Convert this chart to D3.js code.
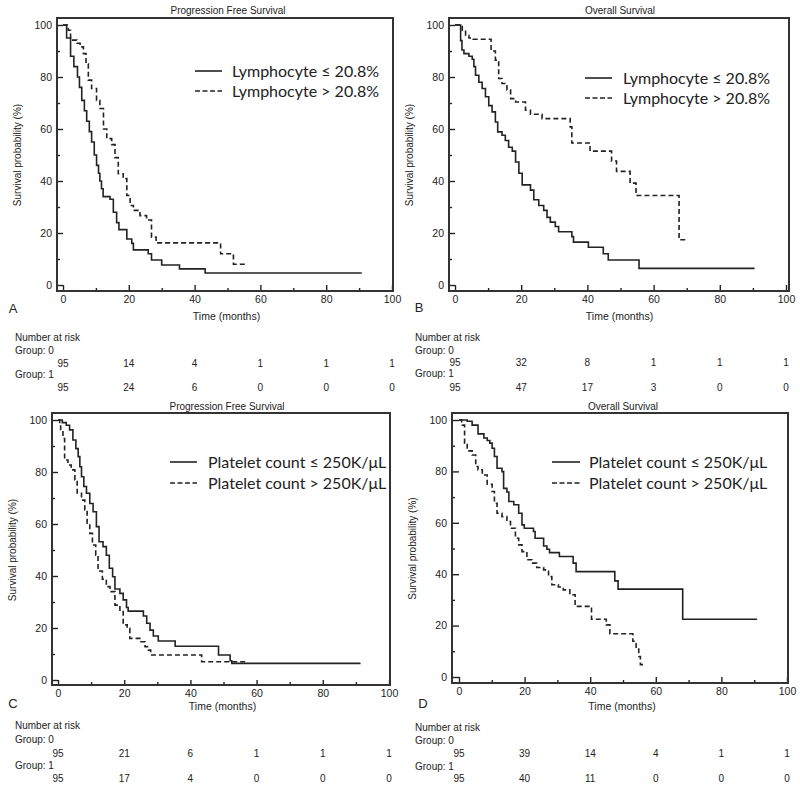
<!DOCTYPE html>
<html>
<head>
<meta charset="utf-8">
<script src="https://cdn.jsdelivr.net/npm/d3@7/dist/d3.min.js"></script>
<style>
  html, body { margin: 0; padding: 0; background: #fff; }
  svg { display: block; }
  text { font-family: "Liberation Sans", Arial, sans-serif; fill: #222; }
  .legend text { font-family: Lato, "Open Sans", sans-serif; }
</style>
</head>
<body>
<svg id="chart" width="800" height="788"></svg>
<script>
// ---------------- DATA ----------------
const timeTicks = [0, 20, 40, 60, 80, 100];
const minorTicks = [10, 30, 50, 70, 90];
const yTicks = [0, 20, 40, 60, 80, 100];
const panelLetters = ["A", "B", "C", "D"];
const panelTitles = ["Progression Free Survival", "Overall Survival", "Progression Free Survival", "Overall Survival"];
const legendLow = ["Lymphocyte \u2264 20.8%", "Lymphocyte \u2264 20.8%", "Platelet count \u2264 250K/\u03BCL", "Platelet count \u2264 250K/\u03BCL"];
const legendHigh = ["Lymphocyte > 20.8%", "Lymphocyte > 20.8%", "Platelet count > 250K/\u03BCL", "Platelet count > 250K/\u03BCL"];
const riskGroup0 = [[95, 14, 4, 1, 1, 1], [95, 32, 8, 1, 1, 1], [95, 21, 6, 1, 1, 1], [95, 39, 14, 4, 1, 1]];
const riskGroup1 = [[95, 24, 6, 0, 0, 0], [95, 47, 17, 3, 0, 0], [95, 17, 4, 0, 0, 0], [95, 40, 11, 0, 0, 0]];

// Kaplan-Meier steps: [month, survival %]
const pfsLymphLow = [[0,100],[1.1,95],[2.3,88],[3.3,84],[4.4,80],[5.0,76],[5.7,71],[6.5,67],[7.2,63],[8.0,59],[8.7,55],[9.5,50],[10.2,46],[10.8,43],[11.2,40],[11.7,37],[12.2,34],[14.3,33],[15.3,28],[16.3,24],[17.0,21.3],[19.4,17.7],[20.9,16],[21.4,13.5],[25.9,12],[26.9,9.6],[30.0,7.7],[35.4,6.2],[43.2,4.6],[90.8,4.6]];
const pfsLymphHigh = [[0,100],[1.6,98],[2.3,94.2],[4.2,93],[5.2,91.6],[6.2,89],[7.0,85],[7.7,78.8],[8.7,75.6],[10.2,71],[11.2,67.9],[12.3,60],[13.3,56.3],[14.8,54],[15.8,49],[16.8,42.8],[18.3,40.9],[19.4,34.4],[20.4,30.6],[21.4,28.7],[23.4,26.7],[25.4,25],[26.9,18.4],[28.3,16.2],[47.9,12],[51.8,8],[56,8]];
const osLymphLow = [[0,100],[1.7,94],[2.1,90.4],[2.7,89],[4.2,88],[5.2,86.8],[5.7,84],[6.2,80.7],[7.2,78],[8.2,75.6],[9.2,72.4],[10.2,69],[11.2,66.6],[12.2,62.7],[12.9,58.9],[14.2,57.6],[15.2,55.6],[16.2,53],[17.3,51.5],[18.3,47.3],[19.3,43],[20.3,38.5],[22.8,36.5],[23.8,32.8],[25.3,30.6],[26.8,28.7],[27.8,26],[28.8,24.2],[30.3,22.5],[31.3,20.5],[35.3,18.6],[35.8,16.5],[40.3,14.5],[44.8,12],[46.3,9.6],[55.6,6.4],[90.5,6.4]];
const osLymphHigh = [[0,100],[2.2,98],[3.2,96],[4.2,95],[5.5,94.5],[10.9,90],[12.2,86.5],[13.2,79.4],[14.2,77.5],[15.7,75],[16.8,71.7],[18.3,70.4],[21.3,67.2],[22.8,65.7],[26.3,64],[34.8,60.8],[35.3,54.6],[40.8,51.5],[47.3,47.7],[48.8,43.7],[52.9,39.2],[54.7,34.4],[67.7,17.4],[69.9,17.4]];
const pfsPltLow = [[0,100],[1.3,99],[2.5,98],[3.5,96.2],[4.5,92.3],[5.4,89],[6.1,85.9],[6.6,82],[7.1,78.2],[7.8,74.4],[8.6,71.8],[9.6,67.9],[10.6,64.7],[11.6,59],[12.4,53.2],[13.6,51.3],[14.6,48],[15.5,43],[16.5,39.7],[17.2,35],[18.7,33.3],[19.7,30.8],[20.7,27.9],[21.2,26.5],[25.8,24.6],[26.8,21.8],[27.8,19.2],[28.8,16.9],[30.3,15],[35.4,13],[48.5,9.6],[52,7.4],[52.5,6.4],[91.4,6.4]];
const pfsPltHigh = [[0,100],[0.5,98],[0.8,96],[1.5,92.9],[2.0,84.6],[3.0,82.7],[4.0,80.8],[5.1,76.9],[5.8,71.8],[7.1,69.2],[8.1,65.4],[8.8,60.3],[9.6,56.4],[10.4,51.9],[11.4,48],[12.1,41.9],[13.4,38.8],[14.6,35.9],[15.7,34],[17.2,28.8],[18.7,26.3],[19.7,21.2],[20.9,19.9],[21.7,16],[24.7,14.7],[26.3,12.8],[27.3,11.5],[28,9.6],[43.4,7],[56.6,7]];
const osPltLow = [[0,100],[2.5,99.5],[4.0,98],[5.8,94.6],[7.6,93],[8.6,92],[9.4,91],[10.1,89],[10.8,85.8],[11.6,81.2],[13.1,79.9],[13.6,73.4],[14.6,72],[15.2,68.3],[16.7,67],[18.2,63.7],[19.2,59.2],[19.9,57.9],[22.7,56.6],[23.2,54],[25.8,51],[26.8,49.7],[27.6,48.4],[30.6,46.9],[34.8,44.3],[35.7,41],[47.5,37.4],[48.5,34.2],[68.2,22.5],[90.9,22.5]];
const osPltHigh = [[0,100],[0.8,99],[1.0,98],[1.7,91],[2.5,88],[4.0,86.4],[5.1,81.9],[5.8,80.6],[7.1,78.6],[8.6,75],[10.1,72.2],[10.8,67.6],[11.6,63.7],[13.1,62.4],[14.6,60.5],[15.7,57.9],[17.2,54],[18.2,51.4],[19.2,48.8],[20.7,45.6],[22.2,44.3],[23.7,42.6],[25.8,41.7],[27.3,39.1],[28.3,35.9],[30.3,35],[31.8,33.9],[33.8,32],[35.4,27.5],[40.4,22.5],[44.9,20.3],[46.0,16.8],[53.0,13.9],[54.0,11.3],[54.8,8],[55.3,4.8],[56.1,4.8]];

const curvesLow = [pfsLymphLow, osLymphLow, pfsPltLow, osPltLow];
const curvesHigh = [pfsLymphHigh, osLymphHigh, pfsPltHigh, osPltHigh];

// ---------------- LAYOUT ----------------
const layout = [
  { fx0: 57,  fx1: 393, fy0: 18,  fy1: 291, x0: 63,  x1: 392, y0: 285, y100: 25,
    title: [228, 10], letter: [13, 308], leg: { lx0: 195, lx1: 222, tx: 232, y1: 71, y2: 91 },
    axisTitleY: 316, riskX: 15, riskY: [337, 350, 363, 374, 387] },
  { fx0: 449, fx1: 789, fy0: 18, fy1: 291, x0: 455, x1: 786, y0: 285, y100: 25,
    title: [620, 10], letter: [419, 307], leg: { lx0: 585, lx1: 612, tx: 623, y1: 78, y2: 98 },
    axisTitleY: 316, riskX: 415, riskY: [337, 350, 362, 373, 387] },
  { fx0: 52, fx1: 390, fy0: 413, fy1: 685, x0: 58, x1: 389, y0: 680, y100: 420,
    title: [227, 406], letter: [13, 703], leg: { lx0: 170, lx1: 197, tx: 208, y1: 462, y2: 483 },
    axisTitleY: 706, riskX: 15, riskY: [725, 739, 753, 765, 778] },
  { fx0: 452, fx1: 788, fy0: 413, fy1: 683, x0: 459, x1: 787, y0: 677, y100: 420,
    title: [623, 406], letter: [423, 703], leg: { lx0: 552, lx1: 580, tx: 589, y1: 462, y2: 483 },
    axisTitleY: 706, riskX: 415, riskY: [727, 740, 753, 766, 778] }
];

const svg = d3.select("#chart");
const ink = "#222";
const dash = "5,3";

layout.forEach((p, i) => {
  const g = svg.append("g");
  const x = d3.scaleLinear().domain([0, 100]).range([p.x0, p.x1]);
  const y = d3.scaleLinear().domain([0, 100]).range([p.y0, p.y100]);

  // title
  g.append("text").attr("x", p.title[0]).attr("y", p.title[1]).attr("dy", "0.35em")
    .attr("text-anchor", "middle").attr("font-size", 10).text(panelTitles[i]);

  // y axis (ticks inward)
  const ya = g.append("g").attr("transform", `translate(${p.fx0},0)`)
    .call(d3.axisLeft(y).tickValues(yTicks).tickSize(-(p.x0 - p.fx0)).tickPadding(5));
  ya.select(".domain").remove();
  const yam = g.append("g").attr("transform", `translate(${p.fx0},0)`)
    .call(d3.axisLeft(y).tickValues(minorTicks).tickSize(-3).tickFormat(""));
  yam.select(".domain").remove();

  // x axis (ticks inward)
  const xa = g.append("g").attr("transform", `translate(0,${p.fy1})`)
    .call(d3.axisBottom(x).tickValues(timeTicks).tickSize(-(p.fy1 - p.y0)).tickPadding(5));
  xa.select(".domain").remove();
  const xam = g.append("g").attr("transform", `translate(0,${p.fy1})`)
    .call(d3.axisBottom(x).tickValues(minorTicks).tickSize(-3).tickFormat(""));
  xam.select(".domain").remove();

  g.selectAll(".tick line").attr("stroke", ink).attr("stroke-width", 1.4);
  g.selectAll(".tick text").attr("font-size", 10.5).attr("fill", ink)
    .attr("font-family", '"Liberation Sans", Arial, sans-serif');

  // frame
  g.append("rect").attr("x", p.fx0).attr("y", p.fy0)
    .attr("width", p.fx1 - p.fx0).attr("height", p.fy1 - p.fy0)
    .attr("fill", "none").attr("stroke", "#333").attr("stroke-width", 2);

  // axis titles
  g.append("text").attr("transform", `translate(${p.fx0 - 36},${(p.y0 + p.y100) / 2}) rotate(-90)`)
    .attr("text-anchor", "middle").attr("font-size", 10).text("Survival probability (%)");
  g.append("text").attr("x", (p.x0 + p.x1) / 2 - 1).attr("y", p.axisTitleY).attr("dy", "0.35em")
    .attr("text-anchor", "middle").attr("font-size", 10.5).text("Time (months)");

  // panel letter
  g.append("text").attr("x", p.letter[0]).attr("y", p.letter[1]).attr("dy", "0.35em")
    .attr("text-anchor", "middle").attr("font-size", 13).text(panelLetters[i]);

  // curves
  const line = d3.line().x(d => x(d[0])).y(d => y(d[1])).curve(d3.curveStepAfter);
  g.append("path").datum(curvesLow[i]).attr("d", line)
    .attr("fill", "none").attr("stroke", ink).attr("stroke-width", 1.6);
  g.append("path").datum(curvesHigh[i]).attr("d", line)
    .attr("fill", "none").attr("stroke", ink).attr("stroke-width", 1.6).attr("stroke-dasharray", dash);

  // legend
  const lg = g.append("g").attr("class", "legend");
  lg.append("line").attr("x1", p.leg.lx0).attr("x2", p.leg.lx1).attr("y1", p.leg.y1).attr("y2", p.leg.y1)
    .attr("stroke", ink).attr("stroke-width", 1.6);
  lg.append("line").attr("x1", p.leg.lx0).attr("x2", p.leg.lx1).attr("y1", p.leg.y2).attr("y2", p.leg.y2)
    .attr("stroke", ink).attr("stroke-width", 1.6).attr("stroke-dasharray", "5,2.5");
  lg.append("text").attr("x", p.leg.tx).attr("y", p.leg.y1).attr("dy", "0.35em")
    .attr("font-size", 16).text(legendLow[i]);
  lg.append("text").attr("x", p.leg.tx).attr("y", p.leg.y2).attr("dy", "0.35em")
    .attr("font-size", 16).text(legendHigh[i]);

  // number at risk
  const r = g.append("g");
  r.append("text").attr("x", p.riskX).attr("y", p.riskY[0]).attr("dy", "0.35em")
    .attr("font-size", 10).text("Number at risk");
  r.append("text").attr("x", p.riskX).attr("y", p.riskY[1]).attr("dy", "0.35em")
    .attr("font-size", 10).text("Group: 0");
  r.append("text").attr("x", p.riskX).attr("y", p.riskY[3]).attr("dy", "0.35em")
    .attr("font-size", 10).text("Group: 1");
  r.selectAll(".g0").data(riskGroup0[i]).join("text").attr("class", "g0")
    .attr("x", (d, k) => x(timeTicks[k])).attr("y", p.riskY[2]).attr("dy", "0.35em")
    .attr("text-anchor", "middle").attr("font-size", 10).text(d => d);
  r.selectAll(".g1").data(riskGroup1[i]).join("text").attr("class", "g1")
    .attr("x", (d, k) => x(timeTicks[k])).attr("y", p.riskY[4]).attr("dy", "0.35em")
    .attr("text-anchor", "middle").attr("font-size", 10).text(d => d);
});
</script>
</body>
</html>
